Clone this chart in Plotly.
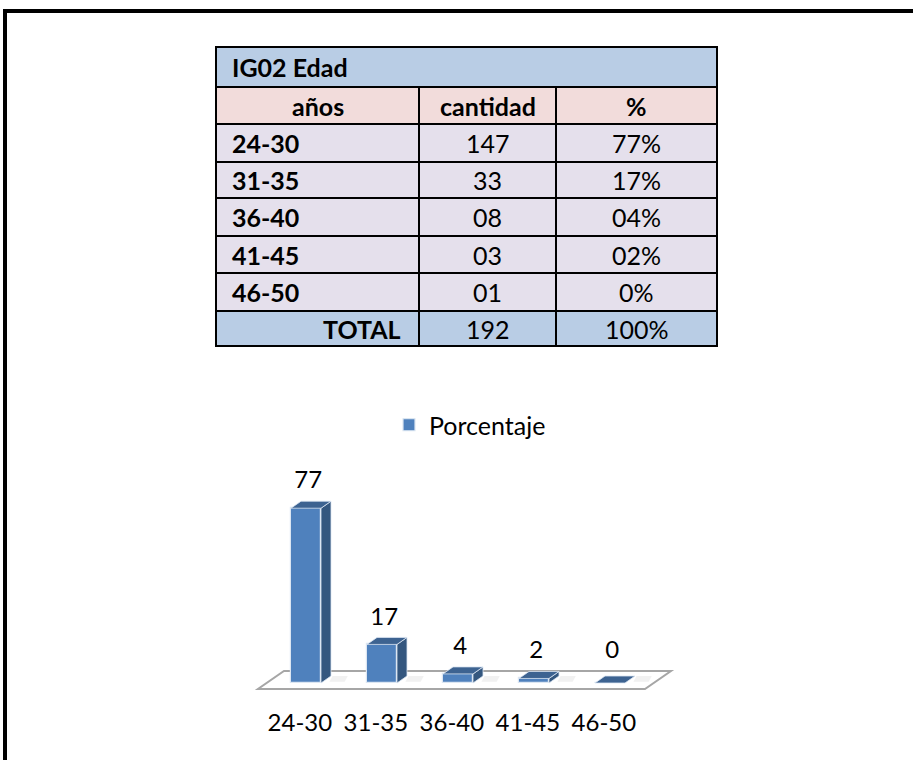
import plotly.graph_objects as go

# ---------------- data ----------------
titulo_tabla = "IG02 Edad"
encabezados = ["años", "cantidad", "%"]
rangos = ["24-30", "31-35", "36-40", "41-45", "46-50"]
cantidad_txt = ["147", "33", "08", "03", "01"]
porcentaje_txt = ["77%", "17%", "04%", "02%", "0%"]
total_label = "TOTAL"
total_cantidad = "192"
total_porcentaje = "100%"
serie = "Porcentaje"
porcentaje = [77, 17, 4, 2, 0]

# ---------------- layout helpers ----------------
W, H = 913, 760
FONT = "Lato"


def px(x):
    return x / W


def py(y):
    return 1 - y / H


fig = go.Figure()
shapes = []
annotations = []

# outer frame (top and left lines)
shapes.append(dict(type="line", xref="paper", yref="paper", x0=px(3), x1=px(W), y0=py(11), y1=py(11),
                   line=dict(color="black", width=4)))
shapes.append(dict(type="line", xref="paper", yref="paper", x0=px(5), x1=px(5), y0=py(9), y1=py(H + 2),
                   line=dict(color="black", width=4)))

# ---------------- table ----------------
col_x = [216, 419, 556, 717]
row_y = [47, 87, 124, 162, 198, 236, 273, 311, 346]
C_TITLE = "#B9CDE5"
C_HEAD = "#F2DCDB"
C_ROW = "#E5E0EC"
C_TOTAL = "#B9CDE5"
LW = 2
TS = 25


def cell(x0, x1, y0, y1, fill):
    shapes.append(dict(type="rect", xref="paper", yref="paper", x0=px(x0), x1=px(x1), y0=py(y1), y1=py(y0),
                       fillcolor=fill, line=dict(color="black", width=LW), layer="below"))


def text(t, x, y, anchor="center", bold=False, size=TS):
    annotations.append(dict(xref="paper", yref="paper", x=px(x), y=py(y), text=("<b>%s</b>" % t) if bold else t,
                            showarrow=False, xanchor=anchor, yanchor="middle",
                            font=dict(family=FONT, size=size, color="black")))


# title row
cell(col_x[0], col_x[3], row_y[0], row_y[1], C_TITLE)
text(titulo_tabla, col_x[0] + 14, (row_y[0] + row_y[1]) / 2, "left", True)

# header row
for j, h in enumerate(encabezados):
    cell(col_x[j], col_x[j + 1], row_y[1], row_y[2], C_HEAD)
    text(h, (col_x[j] + col_x[j + 1]) / 2, (row_y[1] + row_y[2]) / 2, "center", True)

# data rows
for i in range(len(rangos)):
    y0, y1 = row_y[2 + i], row_y[3 + i]
    yc = (y0 + y1) / 2
    for j in range(3):
        cell(col_x[j], col_x[j + 1], y0, y1, C_ROW)
    text(rangos[i], col_x[0] + 14, yc, "left", True)
    text(cantidad_txt[i], (col_x[1] + col_x[2]) / 2, yc)
    text(porcentaje_txt[i], (col_x[2] + col_x[3]) / 2, yc)

# total row
y0, y1 = row_y[-2], row_y[-1]
yc = (y0 + y1) / 2
for j in range(3):
    cell(col_x[j], col_x[j + 1], y0, y1, C_TOTAL)
text(total_label, col_x[1] - 16, yc, "right", True)
text(total_cantidad, (col_x[1] + col_x[2]) / 2, yc)
text(total_porcentaje, (col_x[2] + col_x[3]) / 2, yc)

# ---------------- 3D-looking bar chart ----------------
CAT_PX = 76.0      # pixels per category
CAT0_PX = 306.0    # pixel of first category
UNIT_PX = 2.27     # pixels per percent unit
BASE_PX = 683.0    # pixel of value 0
xr = [-CAT0_PX / CAT_PX, (W - CAT0_PX) / CAT_PX]
yr = [-(H - BASE_PX) / UNIT_PX, BASE_PX / UNIT_PX]

n = len(rangos)
xs = list(range(n))
bw = 30 / CAT_PX
ddx = 10 / CAT_PX
ddy = 7 / UNIT_PX

# floor (drawn below the traces)
fl_front = -6 / UNIT_PX
fl_back = 12 / UNIT_PX
fl_shift = 26 / CAT_PX
fl_left = -0.5 - 0.132
fl_right = (n - 1) + 0.46
shapes.append(dict(type="path", xref="x", yref="y", layer="below",
                   path="M%f,%f L%f,%f L%f,%f L%f,%f Z" % (fl_left, fl_front, fl_right, fl_front,
                                                            fl_right + fl_shift, fl_back,
                                                            fl_left + fl_shift, fl_back),
                   fillcolor="white", line=dict(color="#A6A6A6", width=2)))
# soft shadows to the right of each bar base
for i, v in zip(xs, porcentaje):
    sx0 = i + bw / 2 + ddx
    shapes.append(dict(type="path", xref="x", yref="y", layer="below",
                       path="M%f,%f L%f,%f L%f,%f L%f,%f Z" % (sx0 - 0.02, 0.5, sx0 + 0.18, 0.5,
                                                                sx0 + 0.22, ddy, sx0 + 0.02, ddy),
                       fillcolor="rgba(200,200,200,0.25)", line=dict(width=0)))

FRONT = "#4F81BD"
SIDE = "#34577F"
TOP = "#3D6391"

fig.add_trace(go.Bar(x=xs, y=porcentaje, width=bw, name=serie, marker=dict(color=FRONT,
                     line=dict(color="#DCE6F2", width=1.2)), showlegend=True, hoverinfo="y"))

for i, v in zip(xs, porcentaje):
    xl, xr_ = i - bw / 2, i + bw / 2
    # side face
    if v > 0:
        fig.add_trace(go.Scatter(x=[xr_, xr_ + ddx, xr_ + ddx, xr_, xr_], y=[0, ddy, v + ddy, v, 0],
                                 mode="lines", fill="toself", fillcolor=SIDE,
                                 line=dict(color="#DCE6F2", width=0.8), showlegend=False, hoverinfo="skip"))
    # top face
    fig.add_trace(go.Scatter(x=[xl, xr_, xr_ + ddx, xl + ddx, xl], y=[v, v, v + ddy, v + ddy, v],
                             mode="lines", fill="toself", fillcolor=TOP,
                             line=dict(color="#DCE6F2", width=0.8), showlegend=False, hoverinfo="skip"))

# value labels
lab_y = [max(v + ddy, fl_back) + 8.3 for v in porcentaje]
fig.add_trace(go.Scatter(x=[i + 0.03 for i in xs], y=lab_y, mode="text", text=[str(v) for v in porcentaje],
                         textposition="middle center", textfont=dict(family=FONT, size=24, color="black"),
                         showlegend=False, hoverinfo="skip"))

# category labels
cat_y = -41.5 / UNIT_PX
fig.add_trace(go.Scatter(x=[i - 0.08 for i in xs], y=[cat_y] * n, mode="text", text=rangos,
                         textposition="middle center", textfont=dict(family=FONT, size=24, color="black"),
                         showlegend=False, hoverinfo="skip"))

fig.update_layout(
    width=W, height=H,
    margin=dict(l=0, r=0, t=0, b=0),
    paper_bgcolor="white", plot_bgcolor="white",
    xaxis=dict(range=xr, visible=False, fixedrange=True, domain=[0, 1]),
    yaxis=dict(range=yr, visible=False, fixedrange=True, domain=[0, 1]),
    shapes=shapes, annotations=annotations,
    showlegend=True,
    legend=dict(orientation="h", x=px(389), y=py(425), xanchor="left", yanchor="middle",
                font=dict(family=FONT, size=25, color="black"), bgcolor="rgba(0,0,0,0)"),
    font=dict(family=FONT),
    bargap=0,
)

fig.write_html("out.html", config={"displayModeBar": False},
               post_script="document.body.style.margin='0';")
